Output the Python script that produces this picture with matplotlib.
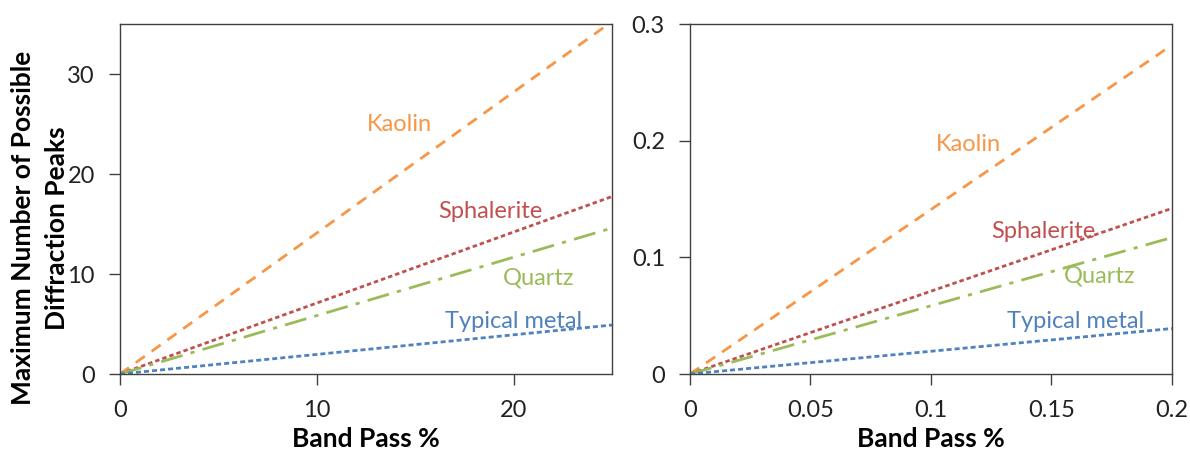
import matplotlib.pyplot as plt

# -------------------------
# Data
# -------------------------
band_pass_wide = [0, 25]
kaolin_wide = [0, 35.25]
sphalerite_wide = [0, 17.75]
quartz_wide = [0, 14.6]
metal_wide = [0, 4.9]

band_pass_narrow = [0, 0.2]
kaolin_narrow = [0, 0.282]
sphalerite_narrow = [0, 0.142]
quartz_narrow = [0, 0.117]
metal_narrow = [0, 0.039]

names = ["Kaolin", "Sphalerite", "Quartz", "Typical metal"]
colors = ["#F79646", "#C0504D", "#9BBB59", "#4F81BD"]
styles = [(0, (4, 3)), (0, (1.6, 1.1)), (0, (8, 3, 1.5, 3)), (0, (1.8, 1.1))]

label_pos_wide = [(14.2, 25.0), (18.8, 16.3), (21.3, 9.6), (20.0, 5.3)]
label_pos_narrow = [(0.1154, 0.197), (0.1465, 0.1226), (0.170, 0.084), (0.160, 0.045)]

plt.rcParams['font.family'] = ['Lato', 'DejaVu Sans']

fig = plt.figure(figsize=(11.9, 4.55), dpi=100)
ax1 = fig.add_axes([0.1008, 0.178, 0.4134, 0.769])
ax2 = fig.add_axes([0.5798, 0.178, 0.405, 0.769])


def style_axes(ax):
    for s in ax.spines.values():
        s.set_color("#404040")
        s.set_linewidth(1.0)
    ax.tick_params(direction="out", length=8, width=1, color="#404040",
                   labelsize=17, labelcolor="#222222")
    ax.tick_params(axis="x", pad=11)
    ax.tick_params(axis="y", pad=10)
    ax.set_xlabel("Band Pass %", fontsize=19, fontweight="bold", labelpad=4)


series_wide = [kaolin_wide, sphalerite_wide, quartz_wide, metal_wide]
for ys, c, ls in zip(series_wide, colors, styles):
    ax1.plot(band_pass_wide, ys, color=c, linestyle=ls, linewidth=2)
for name, (x, y), c in zip(names, label_pos_wide, colors):
    ax1.text(x, y, name, color=c, fontsize=17, ha="center", va="center")
ax1.set_xlim(0, 25)
ax1.set_ylim(0, 35)
ax1.set_xticks([0, 10, 20])
ax1.set_yticks([0, 10, 20, 30])
style_axes(ax1)

# two-line y label, placed by hand so it fits the left margin
fig.text(23 / 1190, 1 - 228 / 455, "Maximum Number of Possible", rotation=90,
         fontsize=19, fontweight="bold", ha="center", va="center")
fig.text(57 / 1190, 1 - 228 / 455, "Diffraction Peaks", rotation=90,
         fontsize=19, fontweight="bold", ha="center", va="center")

series_narrow = [kaolin_narrow, sphalerite_narrow, quartz_narrow, metal_narrow]
for ys, c, ls in zip(series_narrow, colors, styles):
    ax2.plot(band_pass_narrow, ys, color=c, linestyle=ls, linewidth=2)
for name, (x, y), c in zip(names, label_pos_narrow, colors):
    ax2.text(x, y, name, color=c, fontsize=17, ha="center", va="center")
ax2.set_xlim(0, 0.2)
ax2.set_ylim(0, 0.3)
ax2.set_xticks([0, 0.05, 0.1, 0.15, 0.2])
ax2.set_xticklabels(["0", "0.05", "0.1", "0.15", "0.2"])
ax2.set_yticks([0, 0.1, 0.2, 0.3])
ax2.set_yticklabels(["0", "0.1", "0.2", "0.3"])
style_axes(ax2)

fig.savefig("out.png", dpi=100)
